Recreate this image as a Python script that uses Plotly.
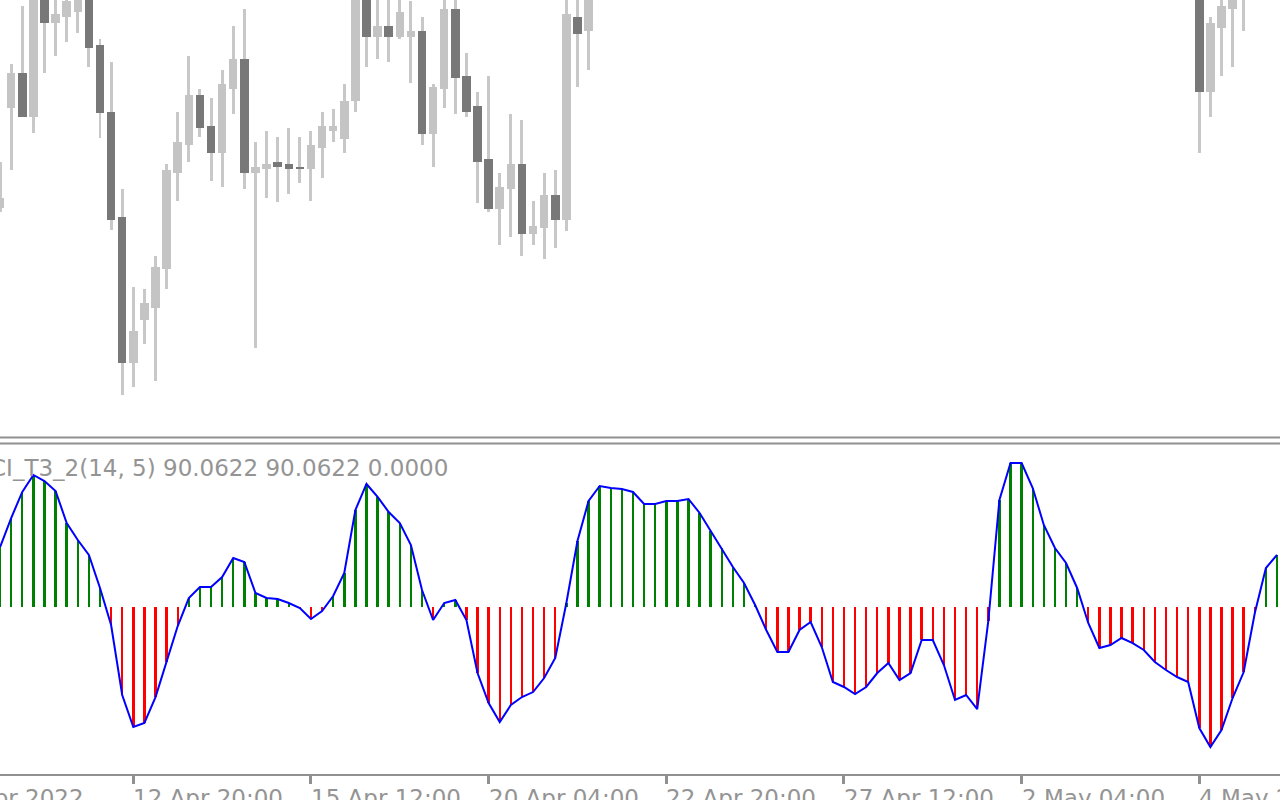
import plotly.graph_objects as go

# ---------------- data ----------------
bar_index = list(range(116))

# H4 candles, price; None = candle outside the visible price window
open_a = [1.0792, 1.0892, 1.0927, 1.0883, 1.1005, 1.0977, 1.0983, 1.0988, 1.1005, 1.0955,
          1.0888, 1.0783, 1.0637, 1.0680, 1.0692, 1.0731, 1.0827, 1.0855, 1.0905, 1.0874,
          1.0847, 1.0911, 1.0941, 1.0827, 1.0831, 1.0838, 1.0836, 1.0833, 1.0831, 1.0852,
          1.0869, 1.0861, 1.0899, 1.1005, 1.0963, 1.0974, 1.0963, 1.0963, 1.0969, 1.0866,
          1.0911, 1.0991, 1.0924, 1.0894, 1.0841, 1.0791, 1.0811, 1.0836, 1.0766, 1.0772,
          1.0805, 1.0780, 1.0983, 1.0969]
high_a = [1.0838, 1.0936, 1.0994, 1.1020, 1.1015, 1.1010, 1.1008, 1.1010, 1.1012, 1.0961,
          1.0938, 1.0811, 1.0713, 1.0711, 1.0744, 1.0836, 1.0888, 1.0944, 1.0911, 1.0902,
          1.0930, 1.0974, 1.0991, 1.0858, 1.0869, 1.0863, 1.0872, 1.0863, 1.0869, 1.0888,
          1.0891, 1.0916, 1.1015, 1.1012, 1.1008, 1.1010, 1.1005, 1.0999, 1.0983, 1.0916,
          1.1010, 1.1008, 1.0947, 1.0908, 1.0924, 1.0827, 1.0886, 1.0880, 1.0799, 1.0827,
          1.0830, 1.1010, 1.1008, 1.1020]
low_a = [1.0788, 1.0830, 1.0883, 1.0867, 1.0927, 1.0944, 1.0958, 1.0967, 1.0933, 1.0862,
         1.0770, 1.0605, 1.0613, 1.0656, 1.0619, 1.0711, 1.0799, 1.0838, 1.0863, 1.0819,
         1.0813, 1.0886, 1.0811, 1.0652, 1.0802, 1.0798, 1.0806, 1.0817, 1.0799, 1.0822,
         1.0858, 1.0847, 1.0888, 1.0933, 1.0941, 1.0938, 1.0961, 1.0917, 1.0855, 1.0833,
         1.0892, 1.0886, 1.0883, 1.0797, 1.0788, 1.0755, 1.0763, 1.0744, 1.0755, 1.0741,
         1.0752, 1.0769, 1.0913, 1.0930]
close_a = [1.0802, 1.0927, 1.0883, 1.1010, 1.0977, 1.0986, 1.0999, 1.1003, 1.0952, 1.0887,
           1.0780, 1.0637, 1.0669, 1.0697, 1.0733, 1.0830, 1.0858, 1.0905, 1.0872, 1.0847,
           1.0916, 1.0941, 1.0827, 1.0833, 1.0836, 1.0833, 1.0831, 1.0831, 1.0855, 1.0874,
           1.0874, 1.0899, 1.1005, 1.0963, 1.0974, 1.0963, 1.0988, 1.0969, 1.0866, 1.0913,
           1.0991, 1.0922, 1.0888, 1.0838, 1.0791, 1.0813, 1.0836, 1.0766, 1.0774, 1.0805,
           1.0780, 1.0986, 1.0966, 1.1010]
open_b = [1.1010, 1.0908, 1.0972, 1.0991, 1.1005]
high_b = [1.1020, 1.0983, 1.1010, 1.1010, 1.1015]
low_b = [1.0847, 1.0883, 1.0924, 1.0933, 1.0969]
close_b = [1.0908, 1.0977, 1.0994, 1.1005, 1.1010]
gap = [None] * 54
tail = [None] * 3
open_p = open_a + gap + open_b + tail
high_p = high_a + gap + high_b + tail
low_p = low_a + gap + low_b + tail
close_p = close_a + gap + close_b + tail

# CCI_T3_2(14, 5) values
cci = [103.4, 153.4, 198.3, 227.6, 217.2, 200.0, 144.8, 115.5, 89.7, 32.8,
       -31.0, -151.7, -206.9, -200.0, -155.2, -94.8, -32.8, 15.5, 34.5, 34.5,
       51.7, 84.5, 77.6, 24.1, 15.5, 13.8, 6.9, -1.7, -20.7, -6.9,
       19.0, 58.6, 167.2, 212.1, 189.7, 163.8, 144.8, 106.9, 29.3, -22.4,
       6.9, 12.1, -22.4, -113.8, -165.5, -198.3, -169.0, -155.2, -146.6, -122.4,
       -87.9, 6.9, 113.8, 182.8, 208.6, 205.2, 203.4, 198.3, 177.6, 177.6,
       182.8, 182.8, 186.2, 162.1, 131.0, 101.7, 69.0, 41.4, 3.4, -39.7,
       -77.6, -77.6, -39.7, -25.9, -69.0, -129.3, -137.9, -150.0, -137.9, -113.8,
       -96.6, -125.9, -113.8, -56.9, -56.9, -100.0, -160.3, -151.7, -175.9, -24.1,
       184.5, 248.3, 248.3, 205.2, 141.4, 101.7, 75.9, 32.8, -27.6, -70.7,
       -65.5, -53.4, -62.1, -74.1, -94.8, -108.6, -120.7, -129.3, -208.6, -241.4,
       -212.1, -156.9, -112.1, -10.3, 67.2, 90.0622]

tick_bars = [-4, 12, 28, 44, 60, 76, 92, 108]
tick_labels = ["8 Apr 2022", "12 Apr 20:00", "15 Apr 12:00", "20 Apr 04:00",
               "22 Apr 20:00", "27 Apr 12:00", "2 May 04:00", "4 May 20:00"]
indicator_label = "CCI_T3_2(14, 5) 90.0622 90.0622 0.0000"

# ---------------- styling ----------------
W, H = 1280, 800
X0, X1 = -0.0054, 115.269
PRICE_RANGE = [1.0563, 1.1000]
CCI_RANGE = [-287.9, 279.3]
UP = "#c4c4c4"
DOWN = "#787878"
WICK = "#c8c8c8"
GREEN = "#008000"
RED = "#ff0000"
BLUE = "#0000ff"
FRAME = "#909090"
TEXT = "#949494"
FONT = "DejaVu Sans"
FSIZE = 23

wx, wbase, wlen = [], [], []
bx, bbase, blen, bcol = [], [], [], []
for i, o, h, l, c in zip(bar_index, open_p, high_p, low_p, close_p):
    if o is None:
        continue
    wx.append(i)
    wbase.append(l)
    wlen.append(h - l)
    bx.append(i)
    bbase.append(min(o, c))
    blen.append(max(abs(c - o), 0.00008))
    bcol.append(UP if c >= o else DOWN)

fig = go.Figure()
fig.add_trace(go.Bar(x=wx, y=wlen, base=wbase, width=0.27, marker=dict(color=WICK, line=dict(width=0)),
                     xaxis="x2", yaxis="y", showlegend=False, hoverinfo="skip"))
fig.add_trace(go.Bar(x=bx, y=blen, base=bbase, width=0.765, marker=dict(color=bcol, line=dict(width=0)),
                     xaxis="x2", yaxis="y", showlegend=False, hoverinfo="skip"))
fig.add_trace(go.Bar(x=bar_index, y=cci, width=0.22,
                     marker=dict(color=[GREEN if v > 0 else RED for v in cci], line=dict(width=0)),
                     xaxis="x", yaxis="y2", showlegend=False, hoverinfo="skip"))
fig.add_trace(go.Scatter(x=bar_index, y=cci, mode="lines", line=dict(color=BLUE, width=2),
                         xaxis="x", yaxis="y2", showlegend=False, hoverinfo="skip"))

annotations = []
for tb, tl in zip(tick_bars, tick_labels):
    px = (tb - X0) / (X1 - X0)
    annotations.append(dict(text=tl, xref="paper", yref="paper", x=px - 2 / W, y=(H - 783) / H,
                            xanchor="left", yanchor="top", showarrow=False,
                            font=dict(family=FONT, size=FSIZE, color=TEXT)))
annotations.append(dict(text=indicator_label, xref="paper", yref="paper", x=-28 / W,
                        y=(H - 452.5) / H, xanchor="left", yanchor="top", showarrow=False,
                        font=dict(family=FONT, size=FSIZE, color=TEXT)))

fig.update_layout(
    width=W, height=H, margin=dict(l=0, r=0, t=0, b=0),
    paper_bgcolor="white", plot_bgcolor="white",
    barmode="overlay", bargap=0,
    xaxis=dict(domain=[0, 1], range=[X0, X1], anchor="y2", showgrid=False, zeroline=False,
               showline=True, linecolor=FRAME, linewidth=2, ticks="outside",
               tickvals=tick_bars[1:], ticklen=8, tickwidth=3, tickcolor=FRAME,
               showticklabels=False, fixedrange=True),
    xaxis2=dict(domain=[0, 1], range=[X0, X1], anchor="y", visible=False),
    yaxis=dict(domain=[(H - 437) / H, 1], range=PRICE_RANGE, visible=False),
    yaxis2=dict(domain=[(H - 774) / H, (H - 445) / H], range=CCI_RANGE, visible=False),
    shapes=[
        dict(type="line", xref="paper", yref="paper", x0=0, x1=1, y0=(H - 437.5) / H, y1=(H - 437.5) / H,
             line=dict(color=FRAME, width=2)),
        dict(type="line", xref="paper", yref="paper", x0=0, x1=1, y0=(H - 443.5) / H, y1=(H - 443.5) / H,
             line=dict(color=FRAME, width=2)),
    ],
    annotations=annotations,
    showlegend=False,
)

fig.write_html(
    "out.html",
    config={"displayModeBar": False, "staticPlot": True},
    post_script="document.body.style.margin='0';document.body.style.overflow='hidden';",
)
